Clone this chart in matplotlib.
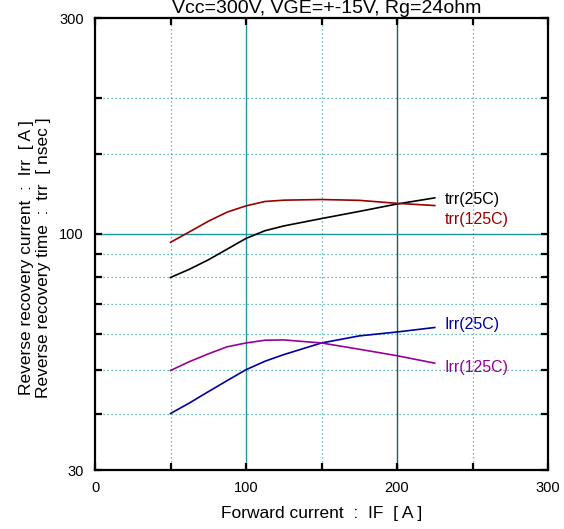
import numpy as np
from matplotlib import pyplot as plt
from matplotlib.ticker import NullFormatter

plt.rcParams['font.family'] = ['Liberation Sans', 'DejaVu Sans']

# forward current [A]
IF = [50, 62.5, 75, 87.5, 100, 112.5, 125, 150, 175, 200, 225]

trr_25 = [80, 83.4, 87.5, 92.4, 97.6, 101.5, 104, 108, 112, 116.3, 120]
trr_125 = [95.7, 100.9, 106.5, 111.6, 115.2, 117.8, 118.6, 119, 118.5, 116.7, 115.4]
irr_25 = [40, 42.2, 44.7, 47.3, 50, 52.2, 54, 57.3, 59.4, 60.6, 62]
irr_125 = [49.8, 52.1, 54.2, 56.2, 57.3, 58.1, 58.2, 57.3, 55.5, 53.7, 51.7]

series = [
    (trr_25, 'trr(25C)', 'black'),
    (trr_125, 'trr(125C)', '#990000'),
    (irr_25, 'Irr(25C)', '#0000A0'),
    (irr_125, 'Irr(125C)', '#990099'),
]
# label y positions (data units) for the text next to each curve end
label_y = [119.0, 107.5, 62.8, 50.5]

y_major = [30, 100, 300]
y_minor = [40, 50, 60, 70, 80, 90, 150, 200]
x_ticks = [0, 100, 200, 300]
x_minor = [50, 150, 250]

fig = plt.figure(figsize=(5.64, 5.29), dpi=100)
ax = fig.add_axes([95/564, 59/529, 453/564, 452/529])
ax.set_yscale('log')
ax.set_xlim(0, 300)
ax.set_ylim(30, 300)

# grid
dot = dict(color='#3aa6a6', lw=0.9, ls=(0, (1, 2.2)), zorder=1)
for x in x_minor:
    ax.axvline(x, **dot)
for y in y_minor:
    ax.axhline(y, **dot)
ax.axvline(100, color='#1a9a9a', lw=1.0, zorder=1)
ax.axvline(200, color='#205a60', lw=1.0, zorder=1)
ax.axhline(100, color='#1a9a9a', lw=1.0, zorder=1)

for (vals, name, col), ly in zip(series, label_y):
    ax.plot(IF, vals, color=col, lw=1.2, zorder=3)
    ax.text(231.5, ly, name, color=col, fontsize=11.5, va='center', ha='left')

ax.set_yticks(y_major)
ax.set_yticklabels([str(v) for v in y_major])
ax.set_yticks(y_minor, minor=True)
ax.yaxis.set_minor_formatter(NullFormatter())
ax.set_xticks(x_ticks)
ax.set_xticks(x_minor, minor=True)

ax.tick_params(which='both', direction='in', top=True, right=True,
               length=5, width=1.6, labelsize=10.5, pad=8)
for s in ax.spines.values():
    s.set_linewidth(1.6)

ax.set_xlabel('Forward current  :  IF  [ A ]', fontsize=12.5, labelpad=8)
ax.set_ylabel('Reverse recovery current  :  Irr  [ A ]\nReverse recovery time  :  trr  [ nsec ]',
              fontsize=12.5)
ax.yaxis.set_label_coords(-0.097, 0.469)

fig.text(327/564, 1 - 13/529, 'Vcc=300V, VGE=+-15V, Rg=24ohm',
         fontsize=14, ha='center', va='baseline')

fig.savefig('out.png', dpi=100)
